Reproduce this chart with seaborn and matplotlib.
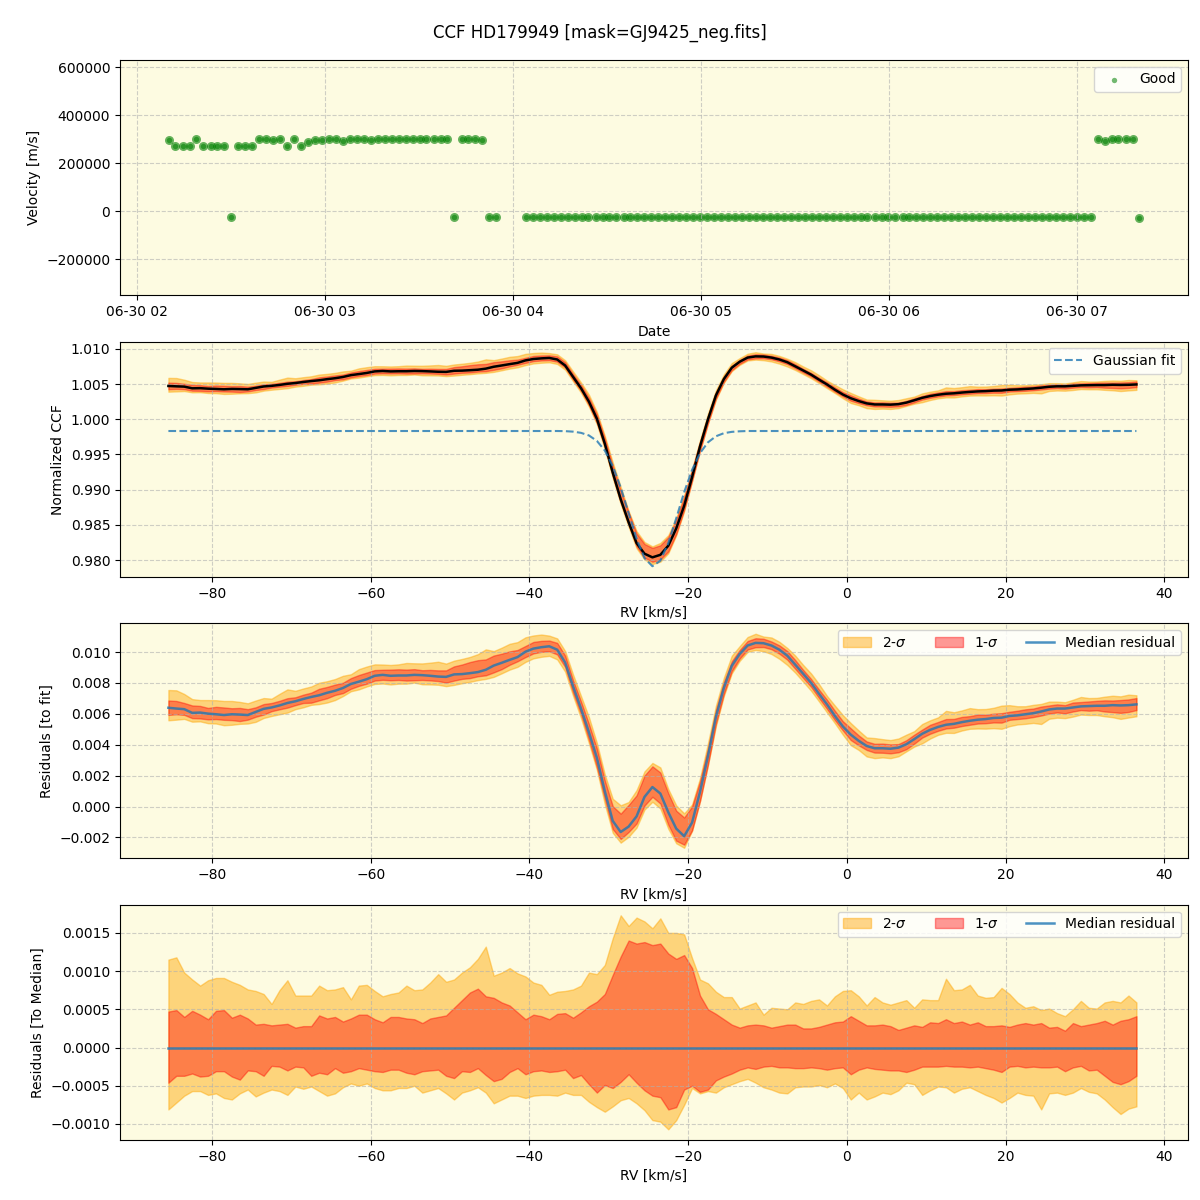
import matplotlib

matplotlib.use("Agg")
import matplotlib.dates as mdates
import matplotlib.pyplot as plt
import numpy as np
import pandas as pd
import seaborn as sns

TITLE = "CCF HD179949 [mask=GJ9425_neg.fits]"
NIGHT_START = pd.Timestamp("2023-06-30 02:00")
BG = "#fdfbe1"

# exposure times (minutes after 02:00) and measured velocities [m/s]
minutes_a = [
    10.2, 12.4, 14.7, 16.9, 19.1, 21.3, 23.6, 25.8, 28.0, 30.2,
    32.5, 34.7, 36.9, 39.2, 41.4, 43.6, 45.8, 48.1, 50.3, 52.5,
    54.7, 56.9, 59.2, 61.4, 63.6, 65.8, 68.1, 70.3, 72.5, 74.7,
    77.0, 79.2, 81.4, 83.6, 85.9, 88.1, 90.3, 92.5, 94.8, 97.0,
    99.2, 101.4, 103.7, 105.9, 108.1, 110.3, 112.6, 114.8,
]
velocity_a = [
    298000, 271700, 271700, 271700, 302000, 271700, 271700, 271700, 271700, -22100,
    271700, 271700, 271700, 300600, 300600, 296500, 300600, 271700, 300600, 271700,
    289600, 296500, 296500, 300600, 300600, 291000, 300600, 300600, 300600, 295100,
    300600, 300600, 300600, 300600, 300600, 300600, 300600, 300600, 300600, 300600,
    300600, -24800, 300600, 300600, 300600, 296500, -24800, -24800,
]
minutes_b = [
    124.2, 126.4, 128.7, 130.9, 133.1, 135.3, 137.6, 139.8, 142.0, 144.2,
    146.5, 148.7, 150.9, 153.1, 155.4, 157.6, 159.8, 162.0, 164.3, 166.5,
    168.7, 170.9, 173.2, 175.4, 177.6, 179.8, 182.1, 184.3, 186.5, 188.7,
    191.0, 193.2, 195.4, 197.6, 199.9, 202.1, 204.3, 206.5, 208.8, 211.0,
    213.2, 215.4, 217.7, 219.9, 222.1, 224.3, 226.6, 228.8, 231.0, 233.2,
    235.5, 237.7, 239.9, 242.1, 244.4, 246.6, 248.8, 251.0, 253.3, 255.5,
    257.7, 259.9, 262.2, 264.4, 266.6, 268.8, 271.1, 273.3, 275.5, 277.7,
    280.0, 282.2, 284.4, 286.6, 288.9, 291.1, 293.3, 295.5, 297.8, 300.0,
    302.2, 304.4, 306.7, 308.9, 311.1, 313.3, 315.6, 317.8, 320.0,
]
velocity_b = [
    -25000, -25000, -25000, -25000, -25000, -25000, -25000, -25000, -25000, -25000,
    -25000, -25000, -25000, -25000, -25000, -25000, -25000, -25000, -25000, -25000,
    -25000, -25000, -25000, -25000, -25000, -25000, -25000, -25000, -25000, -25000,
    -25000, -25000, -25000, -25000, -25000, -25000, -25000, -25000, -25000, -25000,
    -25000, -25000, -25000, -25000, -25000, -25000, -25000, -25000, -25000, -25000,
    -25000, -25000, -25000, -25000, -25000, -25000, -25000, -25000, -25000, -25000,
    -25000, -25000, -25000, -25000, -25000, -25000, -25000, -25000, -25000, -25000,
    -25000, -25000, -25000, -25000, -25000, -25000, -25000, -25000, -25000, -25000,
    -25000, -25000, 300600, 292000, 300600, 300600, 300600, 300600, -26000,
]

# CCF velocity grid [km/s]
rv = np.arange(-85.5, 37.0, 1.0)

# median residual of the CCF with respect to the gaussian fit
resid_median = [
    0.00639, 0.00634, 0.00630, 0.00606, 0.00608, 0.00601, 0.00597, 0.00592, 0.00597, 0.00595,
    0.00592, 0.00612, 0.00632, 0.00641, 0.00654, 0.00670, 0.00681, 0.00696, 0.00709, 0.00720,
    0.00736, 0.00749, 0.00767, 0.00793, 0.00808, 0.00824, 0.00846, 0.00852, 0.00846, 0.00848,
    0.00848, 0.00852, 0.00850, 0.00846, 0.00841, 0.00839, 0.00855, 0.00857, 0.00863, 0.00870,
    0.00885, 0.00912, 0.00930, 0.00949, 0.00967, 0.01002, 0.01022, 0.01031, 0.01037, 0.01015,
    0.00932, 0.00778, 0.00634, 0.00480, 0.00315,
    0.00099, -0.00093, -0.00165, -0.00130, -0.00064, 0.00062, 0.00126, 0.00084, -0.00037, -0.00143,
    -0.00192, -0.00104, 0.00095, 0.00326, 0.00579, 0.00767, 0.00910, 0.00987, 0.01042, 0.01059,
    0.01057, 0.01042, 0.01015, 0.00976, 0.00918, 0.00859, 0.00800, 0.00729, 0.00661, 0.00586,
    0.00518, 0.00465, 0.00425, 0.00392, 0.00377, 0.00377, 0.00374, 0.00381, 0.00403, 0.00436,
    0.00471, 0.00496, 0.00515, 0.00529, 0.00535, 0.00546, 0.00555, 0.00562, 0.00566, 0.00573,
    0.00575, 0.00586, 0.00590, 0.00597, 0.00604, 0.00615, 0.00628, 0.00634, 0.00634, 0.00641,
    0.00648, 0.00650, 0.00652, 0.00652, 0.00656, 0.00654, 0.00656, 0.00661,
]

# gaussian fit of the CCF
gauss_fit = [
    0.99833, 0.99833, 0.99833, 0.99833, 0.99833, 0.99833, 0.99833, 0.99833, 0.99833, 0.99833,
    0.99833, 0.99833, 0.99833, 0.99833, 0.99833, 0.99833, 0.99833, 0.99833, 0.99833, 0.99833,
    0.99833, 0.99833, 0.99833, 0.99833, 0.99833, 0.99833, 0.99833, 0.99833, 0.99833, 0.99833,
    0.99833, 0.99833, 0.99833, 0.99833, 0.99833, 0.99833, 0.99833, 0.99833, 0.99833, 0.99833,
    0.99833, 0.99833, 0.99833, 0.99833, 0.99833, 0.99833, 0.99833, 0.99833, 0.99833, 0.99833,
    0.99831, 0.99824, 0.99807, 0.99770, 0.99693, 0.99556, 0.99337, 0.99032, 0.98669, 0.98307,
    0.98030, 0.97914, 0.97992, 0.98242, 0.98593, 0.98963, 0.99282, 0.99519, 0.99672, 0.99758,
    0.99802, 0.99821, 0.99829,
    0.99833, 0.99833, 0.99833, 0.99833, 0.99833, 0.99833, 0.99833, 0.99833, 0.99833, 0.99833,
    0.99833, 0.99833, 0.99833, 0.99833, 0.99833, 0.99833, 0.99833, 0.99833, 0.99833, 0.99833,
    0.99833, 0.99833, 0.99833, 0.99833, 0.99833, 0.99833, 0.99833, 0.99833, 0.99833, 0.99833,
    0.99833, 0.99833, 0.99833, 0.99833, 0.99833, 0.99833, 0.99833, 0.99833, 0.99833, 0.99833,
    0.99833, 0.99833, 0.99833, 0.99833, 0.99833, 0.99833, 0.99833, 0.99833, 0.99833, 0.99833,
]

# percentile offsets of the CCFs around their median (2-sigma / 1-sigma)
upper_2sig = [
    0.00115, 0.00118, 0.00098, 0.00089, 0.00081, 0.00088, 0.00091, 0.00091, 0.00086, 0.00082,
    0.00076, 0.00074, 0.00070, 0.00057, 0.00075, 0.00088, 0.00068, 0.00068, 0.00068, 0.00081,
    0.00075, 0.00076, 0.00079, 0.00063, 0.00081, 0.00082, 0.00074, 0.00067, 0.00070, 0.00072,
    0.00081, 0.00075,
    0.00076, 0.00085, 0.00096, 0.00086, 0.00089, 0.00098, 0.00105, 0.00116, 0.00132, 0.00094,
    0.00098, 0.00104, 0.00097, 0.00093, 0.00085, 0.00082, 0.00069, 0.00073, 0.00074, 0.00076,
    0.00081, 0.00098, 0.00096, 0.00108, 0.00143, 0.00173, 0.00159, 0.00170, 0.00165, 0.00156,
    0.00169, 0.00150,
    0.00150, 0.00148, 0.00117, 0.00089, 0.00084, 0.00073, 0.00066, 0.00066, 0.00051, 0.00055,
    0.00059, 0.00043, 0.00052, 0.00051, 0.00050, 0.00059, 0.00057, 0.00061, 0.00063, 0.00055,
    0.00067, 0.00074, 0.00075, 0.00067, 0.00055, 0.00066, 0.00059, 0.00056, 0.00059, 0.00062,
    0.00052,
    0.00063, 0.00062, 0.00062, 0.00090, 0.00075, 0.00076, 0.00082, 0.00068, 0.00065, 0.00066,
    0.00078, 0.00070, 0.00059, 0.00052, 0.00054, 0.00049, 0.00051, 0.00045, 0.00041, 0.00050,
    0.00061, 0.00052, 0.00051, 0.00059, 0.00061, 0.00059, 0.00068, 0.00059,
]
upper_1sig = [
    0.00047, 0.00049, 0.00040, 0.00048, 0.00043, 0.00037, 0.00048, 0.00049, 0.00039, 0.00043,
    0.00038, 0.00030, 0.00031, 0.00029, 0.00030, 0.00031, 0.00026, 0.00028, 0.00028, 0.00042,
    0.00038, 0.00040, 0.00034, 0.00038, 0.00043, 0.00043, 0.00037, 0.00033, 0.00040, 0.00040,
    0.00038, 0.00037,
    0.00032, 0.00038, 0.00040, 0.00042, 0.00052, 0.00062, 0.00072, 0.00077, 0.00067, 0.00065,
    0.00059, 0.00055, 0.00046, 0.00037, 0.00043, 0.00041, 0.00037, 0.00044, 0.00045, 0.00039,
    0.00046, 0.00054, 0.00060, 0.00070, 0.00095, 0.00119, 0.00140, 0.00136, 0.00138, 0.00134,
    0.00136, 0.00123,
    0.00116, 0.00121, 0.00104, 0.00068, 0.00050, 0.00044, 0.00037, 0.00030, 0.00026, 0.00029,
    0.00030, 0.00029, 0.00026, 0.00028, 0.00030, 0.00030, 0.00025, 0.00025, 0.00027, 0.00030,
    0.00033, 0.00034, 0.00041, 0.00035, 0.00029, 0.00029, 0.00030, 0.00028, 0.00023, 0.00026,
    0.00029,
    0.00027, 0.00033, 0.00032, 0.00037, 0.00032, 0.00034, 0.00030, 0.00033, 0.00028, 0.00028,
    0.00029, 0.00027, 0.00030, 0.00032, 0.00030, 0.00032, 0.00026, 0.00027, 0.00022, 0.00032,
    0.00028, 0.00030, 0.00032, 0.00035, 0.00030, 0.00035, 0.00037, 0.00041,
]
lower_1sig = [
    -0.00046, -0.00037, -0.00037, -0.00034, -0.00038, -0.00037, -0.00031, -0.00031, -0.00038, -0.00042,
    -0.00030, -0.00031, -0.00037, -0.00024, -0.00025, -0.00030, -0.00025, -0.00026, -0.00037, -0.00033,
    -0.00035, -0.00027, -0.00033, -0.00031, -0.00027, -0.00029, -0.00031, -0.00032, -0.00029, -0.00029,
    -0.00033, -0.00035,
    -0.00031, -0.00030, -0.00029, -0.00037, -0.00040, -0.00031, -0.00032, -0.00027, -0.00036, -0.00044,
    -0.00041, -0.00032, -0.00027, -0.00035, -0.00031, -0.00030, -0.00032, -0.00031, -0.00029, -0.00040,
    -0.00036, -0.00048, -0.00059, -0.00049, -0.00053, -0.00045, -0.00035, -0.00046, -0.00056, -0.00063,
    -0.00065, -0.00081,
    -0.00078, -0.00055, -0.00050, -0.00058, -0.00055, -0.00043, -0.00038, -0.00034, -0.00029, -0.00026,
    -0.00028, -0.00025, -0.00024, -0.00026, -0.00026, -0.00027, -0.00027, -0.00026, -0.00027, -0.00029,
    -0.00027, -0.00026, -0.00035, -0.00029, -0.00026, -0.00028, -0.00029, -0.00030, -0.00030, -0.00032,
    -0.00029,
    -0.00025, -0.00025, -0.00025, -0.00024, -0.00025, -0.00025, -0.00026, -0.00025, -0.00027, -0.00029,
    -0.00032, -0.00025, -0.00024, -0.00026, -0.00025, -0.00026, -0.00026, -0.00025, -0.00031, -0.00026,
    -0.00024, -0.00030, -0.00029, -0.00037, -0.00045, -0.00048, -0.00044, -0.00037,
]
lower_2sig = [
    -0.00081, -0.00072, -0.00063, -0.00057, -0.00057, -0.00062, -0.00060, -0.00066, -0.00068, -0.00060,
    -0.00055, -0.00064, -0.00059, -0.00055, -0.00057, -0.00062, -0.00051, -0.00054, -0.00051, -0.00057,
    -0.00063, -0.00060, -0.00052, -0.00047, -0.00050, -0.00047, -0.00053, -0.00056, -0.00056, -0.00053,
    -0.00053, -0.00050,
    -0.00059, -0.00056, -0.00053, -0.00060, -0.00068, -0.00059, -0.00056, -0.00052, -0.00059, -0.00073,
    -0.00068, -0.00063, -0.00063, -0.00066, -0.00063, -0.00062, -0.00062, -0.00063, -0.00059, -0.00062,
    -0.00062, -0.00071, -0.00078, -0.00084, -0.00077, -0.00069, -0.00066, -0.00073, -0.00082, -0.00095,
    -0.00097, -0.00107,
    -0.00095, -0.00075, -0.00053, -0.00060, -0.00057, -0.00059, -0.00052, -0.00048, -0.00044, -0.00041,
    -0.00046, -0.00052, -0.00055, -0.00059, -0.00060, -0.00052, -0.00051, -0.00051, -0.00049, -0.00052,
    -0.00047, -0.00053, -0.00068, -0.00059, -0.00068, -0.00064, -0.00059, -0.00061, -0.00056, -0.00046,
    -0.00048,
    -0.00062, -0.00056, -0.00051, -0.00052, -0.00059, -0.00054, -0.00052, -0.00057, -0.00062, -0.00066,
    -0.00072, -0.00066, -0.00059, -0.00062, -0.00063, -0.00081, -0.00060, -0.00059, -0.00062, -0.00059,
    -0.00053, -0.00058, -0.00060, -0.00068, -0.00078, -0.00087, -0.00080, -0.00077,
]


def style_axis(ax):
    ax.set_facecolor(BG)
    ax.grid(True, linestyle="--", alpha=0.6)


def draw_bands(ax, center, label=True):
    kw2 = {"label": r"2-$\sigma$"} if label else {}
    kw1 = {"label": r"1-$\sigma$"} if label else {}
    ax.fill_between(rv, center + lo2, center + hi2, color="orange", alpha=0.45, **kw2)
    ax.fill_between(rv, center + lo1, center + hi1, color="red", alpha=0.4, **kw1)


resid = np.array(resid_median)
fit = np.array(gauss_fit)
ccf = fit + resid
hi2, hi1 = np.array(upper_2sig), np.array(upper_1sig)
lo1, lo2 = np.array(lower_1sig), np.array(lower_2sig)

times = NIGHT_START + pd.to_timedelta(minutes_a + minutes_b, unit="min")
vel = pd.DataFrame({"time": times, "velocity": velocity_a + velocity_b})

fig, axes = plt.subplots(4, 1, figsize=(12, 12), dpi=100)
fig.subplots_adjust(left=0.1, right=0.99, top=0.95, bottom=0.05, hspace=0.196)
fig.suptitle(TITLE, fontsize=12)

# velocities over the night
ax = axes[0]
style_axis(ax)
sns.scatterplot(data=vel, x="time", y="velocity", ax=ax, color="green", s=42, alpha=0.6, linewidth=0)
sns.scatterplot(data=vel, x="time", y="velocity", ax=ax, color="green", s=15, alpha=0.55, linewidth=0, label="Good")
ax.xaxis.set_major_locator(mdates.HourLocator())
ax.xaxis.set_major_formatter(mdates.DateFormatter("%m-%d %H"))
ax.set_ylim(-350000, 630000)
ax.set_xlabel("Date")
ax.set_ylabel("Velocity [m/s]")
ax.legend(loc="upper right")

# CCF with gaussian fit
ax = axes[1]
style_axis(ax)
draw_bands(ax, ccf, label=False)
sns.lineplot(x=rv, y=ccf, ax=ax, color="black", linewidth=1.8)
sns.lineplot(x=rv, y=fit, ax=ax, color="tab:blue", linestyle="--", alpha=0.8, label="Gaussian fit")
ax.set_ylabel("Normalized CCF")
ax.legend(loc="upper right")

# residuals to the fit
ax = axes[2]
style_axis(ax)
draw_bands(ax, resid)
sns.lineplot(x=rv, y=resid, ax=ax, color="tab:blue", alpha=0.8, linewidth=1.8, label="Median residual")
ax.set_ylabel("Residuals [to fit]")
ax.legend(loc="upper right", ncol=3)

# residuals to the median
ax = axes[3]
style_axis(ax)
draw_bands(ax, resid - resid)
sns.lineplot(x=rv, y=resid - resid, ax=ax, color="tab:blue", alpha=0.8, linewidth=1.8, label="Median residual")
ax.set_ylabel("Residuals [To Median]")
ax.legend(loc="upper right", ncol=3)

for ax in axes[1:]:
    ax.set_xlim(-91.6, 43.0)
    ax.set_xlabel("RV [km/s]")

fig.savefig("out.png", dpi=100)
plt.close(fig)
